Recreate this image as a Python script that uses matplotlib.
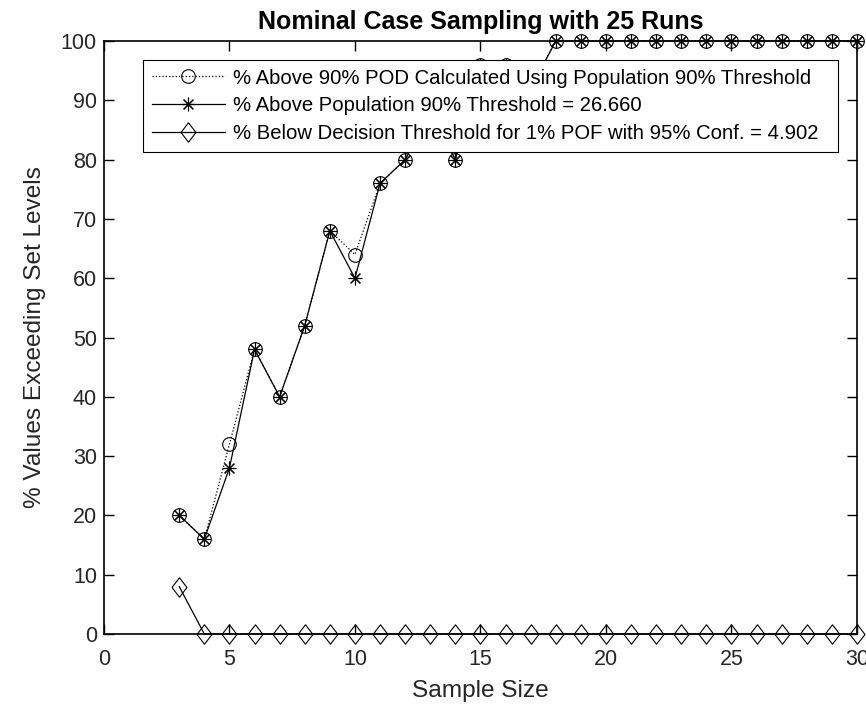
import numpy as np
import matplotlib
matplotlib.use('Agg')
import matplotlib.pyplot as plt

plt.rcParams['font.family'] = ['Liberation Sans', 'DejaVu Sans']

# sample sizes
sampleSize = list(range(3, 31))
# % above 90% POD calculated using population 90% threshold
podAbove = [20, 16, 32, 48, 40, 52, 68, 64, 76, 80, 88, 80, 96, 96, 92] + [100] * 13
# % above population 90% threshold
popAbove = [20, 16, 28, 48, 40, 52, 68, 60, 76, 80, 88, 80, 96, 96, 92] + [100] * 13
# % below decision threshold
belowDec = [8] + [0] * 27

labels = ['% Above 90% POD Calculated Using Population 90% Threshold',
          '% Above Population 90% Threshold = 26.660',
          '% Below Decision Threshold for 1% POF with 95% Conf. = 4.902']

# matlab style diamond (a bit wider than mpl 'd')
diamond = [(-0.77, 0), (0, 1), (0.77, 0), (0, -1), (-0.77, 0)]

fig = plt.figure(figsize=(8.66, 7.05), dpi=100)
ax = fig.add_axes([0.120, 0.1007, 0.8696, 0.8411])

ax.plot(sampleSize, podAbove, ':', color='k', lw=0.9, marker='o', ms=9.8,
        mfc='none', mec='k', mew=0.8, label=labels[0], clip_on=False, zorder=3)
ax.plot(sampleSize, popAbove, '-', color='k', lw=0.9, marker=(8, 2, 0), ms=9.8,
        mec='k', mew=0.8, label=labels[1], clip_on=False, zorder=3)
ax.plot(sampleSize, belowDec, '-', color='k', lw=0.9, marker=diamond, ms=14,
        mfc='none', mec='k', mew=0.8, label=labels[2], clip_on=False, zorder=3)

ax.set_xlim(0, 30)
ax.set_ylim(0, 100)
ax.set_xticks(range(0, 31, 5))
ax.set_yticks(range(0, 101, 10))
ax.tick_params(direction='in', top=True, right=True, labelsize=15.5, length=7,
               width=1, pad=5, labelcolor='#262626')
ax.tick_params(axis='x', pad=11)
for s in ax.spines.values():
    s.set_linewidth(1.2)
ax.set_xlabel('Sample Size', fontsize=17.6, color='#262626', labelpad=7)
ax.set_ylabel('% Values Exceeding Set Levels', fontsize=17.6, color='#262626', labelpad=11)
ax.set_title('Nominal Case Sampling with 25 Runs', fontsize=18, fontweight='bold', pad=9)

leg = ax.legend(loc='upper left', bbox_to_anchor=(0.052, 0.0, 0.923, 0.968), mode='expand',
                fontsize=14.6, fancybox=False, edgecolor='k', framealpha=1, handlelength=3.6,
                handletextpad=0.4, borderaxespad=0, borderpad=0.42, labelspacing=0.44)
leg.get_frame().set_linewidth(0.8)
leg.set_zorder(5)

fig.savefig('out.png', dpi=100)
